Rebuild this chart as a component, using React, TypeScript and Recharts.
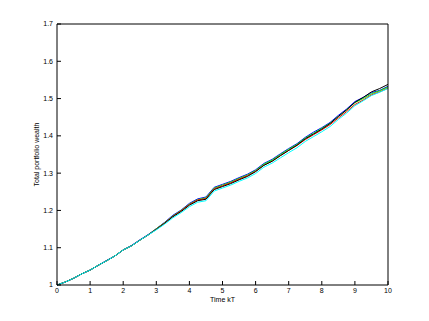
import { LineChart, Line, XAxis, YAxis } from "recharts"

const time = [
  0, 0.25, 0.5, 0.75, 1, 1.25, 1.5, 1.75, 2, 2.25, 2.5, 2.75, 3, 3.25, 3.5, 3.75, 4, 4.25, 4.5, 4.75,
  5, 5.25, 5.5, 5.75, 6, 6.25, 6.5, 6.75, 7, 7.25, 7.5, 7.75, 8, 8.25, 8.5, 8.75, 9, 9.25, 9.5, 9.75, 10,
]

const blue = [
  1.0, 1.008, 1.018, 1.03, 1.04, 1.053, 1.066, 1.078, 1.094, 1.106, 1.121, 1.135, 1.151, 1.168, 1.187, 1.201,
  1.219, 1.231, 1.236, 1.262, 1.27, 1.278, 1.288, 1.297, 1.309, 1.326, 1.337, 1.352, 1.366, 1.379, 1.396, 1.41,
  1.422, 1.436, 1.455, 1.472, 1.492, 1.503, 1.516, 1.522, 1.533,
]
const green = [
  1.0, 1.008, 1.018, 1.03, 1.04, 1.053, 1.065, 1.078, 1.094, 1.105, 1.12, 1.134, 1.151, 1.167, 1.185, 1.2,
  1.217, 1.229, 1.234, 1.26, 1.268, 1.276, 1.286, 1.295, 1.307, 1.324, 1.335, 1.35, 1.364, 1.377, 1.394, 1.407,
  1.42, 1.434, 1.452, 1.469, 1.489, 1.5, 1.513, 1.521, 1.531,
]
const red = [
  1.0, 1.008, 1.018, 1.03, 1.04, 1.053, 1.065, 1.078, 1.094, 1.105, 1.12, 1.134, 1.15, 1.166, 1.184, 1.199,
  1.216, 1.228, 1.232, 1.258, 1.266, 1.274, 1.284, 1.293, 1.305, 1.321, 1.332, 1.347, 1.361, 1.374, 1.39, 1.403,
  1.416, 1.43, 1.448, 1.465, 1.484, 1.496, 1.51, 1.518, 1.528,
]
const black = [
  1.0, 1.008, 1.018, 1.03, 1.04, 1.053, 1.065, 1.078, 1.094, 1.105, 1.12, 1.134, 1.149, 1.165, 1.183, 1.197,
  1.214, 1.226, 1.23, 1.256, 1.264, 1.272, 1.282, 1.291, 1.304, 1.321, 1.332, 1.347, 1.361, 1.375, 1.392, 1.405,
  1.418, 1.433, 1.452, 1.47, 1.49, 1.503, 1.518, 1.527, 1.538,
]
const cyan = [
  1.0, 1.008, 1.018, 1.03, 1.04, 1.053, 1.065, 1.078, 1.094, 1.105, 1.12, 1.134, 1.148, 1.163, 1.18, 1.194,
  1.21, 1.222, 1.226, 1.252, 1.26, 1.268, 1.278, 1.287, 1.299, 1.316, 1.327, 1.341, 1.355, 1.368, 1.385, 1.398,
  1.411, 1.425, 1.444, 1.461, 1.481, 1.494, 1.508, 1.517, 1.527,
]

const xTicks = [0, 1, 2, 3, 4, 5, 6, 7, 8, 9, 10]
const yTicks = [1, 1.1, 1.2, 1.3, 1.4, 1.5, 1.6, 1.7]

const series = [
  { key: "blue", values: blue, color: "#0000ff" },
  { key: "green", values: green, color: "#00ff00" },
  { key: "red", values: red, color: "#ff0000" },
  { key: "black", values: black, color: "#000000" },
  { key: "cyan", values: cyan, color: "#00ffff" },
]

const data = time.map((t, i) => {
  const row: any = { t }
  series.forEach((s) => (row[s.key] = s.values[i]))
  return row
})

const font = { fontSize: 7, fill: "#000", fontFamily: "'Liberation Sans', Arial, sans-serif" }
const axisLine = { stroke: "#000", strokeWidth: 1 }

export default function App() {
  return (
    <div style={{ position: "absolute", left: 0, top: 0, width: 429, height: 321, background: "#fff" }}>
      <LineChart width={429} height={321} data={data} margin={{ top: 0, right: 0, bottom: 0, left: 0 }}>
        <XAxis
          xAxisId="bottom"
          dataKey="t"
          type="number"
          domain={[0, 10]}
          ticks={xTicks}
          interval={0}
          height={36}
          tickSize={-4}
          tickMargin={7}
          tick={font}
          axisLine={axisLine}
          tickLine={axisLine}
          label={{ value: "Time kT", position: "insideTop", offset: 12, ...font }}
        />
        <XAxis
          xAxisId="top"
          orientation="top"
          dataKey="t"
          type="number"
          domain={[0, 10]}
          ticks={xTicks}
          interval={0}
          height={24}
          tickSize={-4}
          tick={false}
          axisLine={axisLine}
          tickLine={axisLine}
        />
        <YAxis
          yAxisId="left"
          type="number"
          domain={[1, 1.7]}
          ticks={yTicks}
          interval={0}
          width={57}
          tickSize={-4}
          tickMargin={8}
          tick={font}
          axisLine={axisLine}
          tickLine={axisLine}
          label={{ value: "Total portfolio wealth", angle: -90, position: "center", dx: 8, ...font }}
        />
        <YAxis
          yAxisId="right"
          orientation="right"
          type="number"
          domain={[1, 1.7]}
          ticks={yTicks}
          interval={0}
          width={41}
          tickSize={-4}
          tick={false}
          axisLine={axisLine}
          tickLine={axisLine}
        />
        {series.map((s) => (
          <Line
            key={s.key}
            xAxisId="bottom"
            yAxisId="left"
            dataKey={s.key}
            type="linear"
            stroke={s.color}
            strokeWidth={1}
            dot={false}
            isAnimationActive={false}
          />
        ))}
      </LineChart>
    </div>
  )
}
